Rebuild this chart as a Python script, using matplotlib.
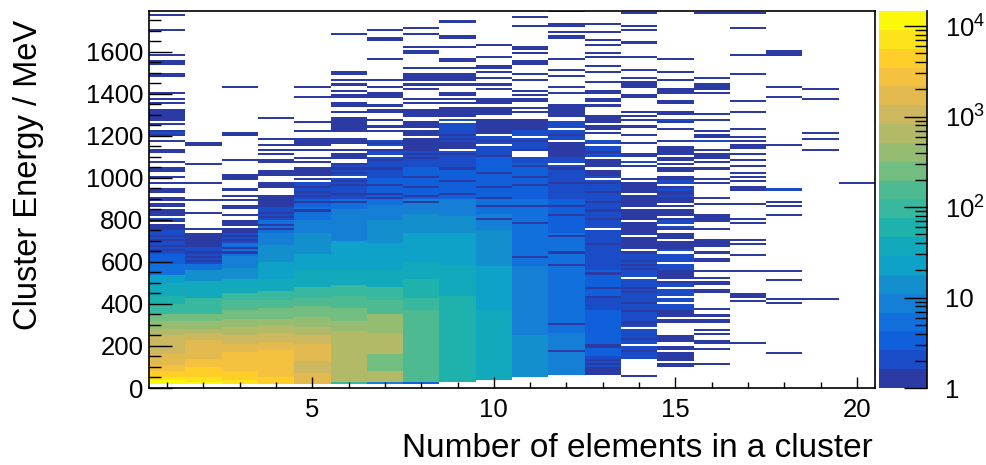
import numpy as np
import matplotlib
matplotlib.use('Agg')
import matplotlib.pyplot as plt
from matplotlib.colors import ListedColormap, LogNorm
from matplotlib.ticker import FixedLocator, FixedFormatter, MultipleLocator, NullFormatter

plt.rcParams['font.family'] = ['Liberation Sans', 'DejaVu Sans']
plt.rcParams['mathtext.default'] = 'regular'

W, H = 987, 465
BIN = 10  # MeV per row
ZMAX = 14650

# Each column: band edges (MeV) + counts in the dense part, single hits above it,
# rows that drop to 1 hit and rows that are empty. All read off the picture.
C1_EDGES = [20, 40, 50, 80, 110, 160, 250, 280, 320, 350, 400, 440, 500, 540, 590, 640, 750]
C1_COUNTS = [10000, 7000, 4300, 2700, 1700, 1000, 640, 400, 250, 120, 60, 30, 18, 6, 3, 2]
C1_LINES = [1770, 1700, 1580, 1550, 1540, 1490, 1480, 1400, 1370, 1350, 1320, 1310, 1300, 1290, 1280, 1270,
            1250, 1220, 1210, 1210, 1200, 1170, 1130, 1120, 1070, 1040, 1030, 1000, 970, 940, 930, 900,
            890, 870, 860, 840, 830, 820, 800, 800, 790, 770, 760, 750]
C1_GAPS = [810]
C1_DIPS = [650, 670, 700, 720]

C2_EDGES = [20, 30, 50, 100, 140, 230, 260, 280, 320, 350, 400, 430, 510, 560, 590, 670, 740]
C2_COUNTS = [10000, 7000, 4300, 2700, 1700, 1000, 650, 400, 250, 120, 75, 35, 14, 5, 2, 1]
C2_LINES = [1150, 1160, 1060, 970, 890, 830, 750]
C2_GAPS = [740]
C2_DIPS = [600, 620, 640]

C3_EDGES = [20, 40, 80, 170, 210, 250, 290, 330, 370, 420, 450, 520, 570, 630, 690, 740, 800]
C3_COUNTS = [7000, 4300, 2700, 1700, 1000, 650, 400, 250, 150, 95, 35, 14, 8, 5, 2, 1]
C3_LINES = [1430, 1200, 1210, 1080, 1010, 1000, 990, 940, 910, 890, 860, 850, 820]
C3_GAPS = [760]
C3_DIPS = [640, 660, 700, 720]

C4_EDGES = [20, 50, 180, 220, 260, 300, 330, 380, 420, 460, 520, 600, 680, 740, 800, 860, 900]
C4_COUNTS = [4300, 2700, 1700, 1000, 650, 400, 250, 150, 75, 35, 22, 14, 8, 5, 2, 1]
C4_LINES = [1280, 1180, 1150, 1130, 1110, 1080, 1070, 1030, 1020, 1010, 970, 960, 950, 910, 900]
C4_GAPS = []
C4_DIPS = [750, 770, 810, 830, 870, 890]

C5_EDGES = [20, 70, 130, 210, 250, 290, 340, 390, 430, 480, 560, 640, 740, 800, 860, 900, 1000]
C5_COUNTS = [1700, 1000, 1700, 1000, 650, 400, 250, 150, 75, 35, 22, 14, 8, 5, 3, 2]
C5_LINES = [1430, 1380, 1260, 1220, 1180, 1170, 1160, 1150, 1130, 1090, 1070, 1040, 1030, 1020, 1010]
C5_GAPS = [980]
C5_DIPS = [910, 930, 950, 990, 840, 880]

C6_EDGES = [20, 30, 270, 320, 380, 440, 490, 560, 700, 780, 850, 900, 1070]
C6_COUNTS = [100, 650, 400, 250, 150, 75, 35, 20, 10, 7, 5, 2]
C6_LINES = [1680, 1500, 1490, 1460, 1440, 1410, 1390, 1380, 1350, 1340, 1310, 1280, 1270, 1260, 1250, 1240,
            1230, 1220, 1180, 1170, 1160, 1130, 1110, 1100, 1090]
C6_GAPS = [1070, 1000]
C6_DIPS = [1060, 1040, 1020, 980, 960, 920, 880]

C7_EDGES = [20, 30, 80, 160, 260, 350, 420, 480, 560, 690, 800, 870, 900, 1000, 1180]
C7_COUNTS = [8, 650, 250, 650, 400, 150, 95, 40, 25, 14, 8, 6, 3, 2]
C7_LINES = [1700, 1660, 1650, 1560, 1460, 1430, 1400, 1390, 1380, 1340, 1320, 1310, 1270, 1240, 1220]
C7_GAPS = [1100, 1140]
C7_DIPS = [1160, 1130, 1080, 1040, 960, 900, 920]

C8_EDGES = [20, 30, 370, 430, 520, 600, 740, 830, 900, 1050, 1130, 1270]
C8_COUNTS = [3, 150, 95, 60, 35, 22, 14, 9, 3, 2, 1]
C8_LINES = [1710, 1680, 1620, 1600, 1590, 1520, 1490, 1480, 1470, 1460, 1440, 1420, 1370, 1350, 1320, 1310, 1300, 1290]
C8_GAPS = [1230, 1190]
C8_DIPS = [1110, 1090, 1000, 950, 910, 880]

C9_EDGES = [30, 440, 580, 740, 820, 900, 1050, 1130, 1170, 1280]
C9_COUNTS = [60, 35, 18, 14, 9, 4, 2, 1, 2]
C9_LINES = [1740, 1660, 1670, 1620, 1550, 1560, 1520, 1490, 1480, 1470, 1460, 1440, 1400, 1390, 1370, 1350,
            1330, 1320, 1310, 1300, 1290]
C9_GAPS = [1260, 1130]
C9_DIPS = [1040, 1110, 1180, 1200, 980, 920]

C10_EDGES = [40, 370, 580, 750, 830, 900, 990, 1110, 1210, 1280]
C10_COUNTS = [35, 22, 12, 9, 6, 4, 3, 2, 1]
C10_LINES = [1630, 1570, 1530, 1520, 1500, 1470, 1440, 1420, 1370, 1360, 1350, 1330, 1320, 1310, 1300]
C10_GAPS = [1200, 1150]
C10_DIPS = [900, 950, 1020, 1100, 1170, 860, 800]

C11_EDGES = [50, 250, 580, 740, 900, 1070, 1230, 1280]
C11_COUNTS = [14, 9, 6, 4.5, 3, 2, 1]
C11_LINES = [1760, 1720, 1620, 1610, 1590, 1550, 1540, 1490, 1460, 1410, 1390, 1370, 1360, 1330, 1310]
C11_GAPS = [1190, 1110, 1120, 1100]
C11_DIPS = [960, 1000, 1050, 1130, 1170, 860, 780, 620]

C12_EDGES = [60, 260, 560, 740, 900, 1100, 1180, 1270]
C12_COUNTS = [8, 5.5, 4.5, 3.5, 2, 1, 2]
C12_LINES = [1790, 1790, 1730, 1720, 1690, 1670, 1660, 1560, 1510, 1480, 1430, 1400, 1340, 1330, 1320, 1310, 1300, 1290]
C12_GAPS = [1230, 1170, 1060]
C12_DIPS = [970, 1040, 1120, 1140, 1200, 580, 640, 300, 170, 720, 820, 860]

C13_EDGES = [60, 150, 200, 370, 440, 560, 690, 800, 900, 1010, 1100, 1180]
C13_COUNTS = [2, 3.5, 3.5, 2.2, 3.5, 2.2, 2.2, 2, 2, 1, 2]
C13_LINES = [1730, 1690, 1650, 1630, 1590, 1570, 1530, 1500, 1450, 1410, 1400, 1370, 1360, 1340,
             1290, 1280, 1270, 1260, 1240, 1230, 1210]
C13_GAPS = [1150, 990, 1090, 1040, 750]
C13_DIPS = [60, 70, 80, 90, 110, 130, 190, 200, 430, 470, 540, 680, 800, 840, 880, 930, 970, 1060, 1120]

C14_EDGES = [140, 260, 340, 520, 640, 890, 1010]
C14_COUNTS = [2, 2, 1.7, 1.7, 1, 1]
C14_LINES = [1780, 1720, 1700, 1640, 1570, 1510, 1470, 1450, 1440, 1430, 1390, 1380, 1310, 1290, 1270, 1240,
             1200, 1160, 1110, 1100, 1070, 1070, 1050, 50]
C14_GAPS = [200, 280, 520, 650, 720, 790, 850, 980, 1000, 920]
C14_DIPS = [170, 230, 300, 310, 360, 400, 450, 470, 560, 580, 600]

C15_EDGES = [310, 350, 370, 500, 560, 660, 760, 800, 890, 1010]
C15_COUNTS = [1, 1, 1.7, 1, 1.7, 1, 1.7, 1, 1]
C15_LINES = [1560, 1500, 1460, 1420, 1410, 1400, 1350, 1360, 1310, 1300, 1270, 1270, 1260, 1230, 1170, 1140,
             1130, 1120, 1110, 1090, 1080, 1060, 1040, 1030, 980, 970, 940, 930, 910,
             240, 230, 220, 190, 180, 160, 150, 140, 130, 100, 110]
C15_GAPS = [330, 400, 430, 470, 510, 590, 640, 700, 740, 770, 810, 850, 870, 930, 960]
C15_DIPS = []

C16_EDGES = [790, 830]
C16_COUNTS = [1]
C16_LINES = [1780, 1470, 1440, 1430, 1420, 1400, 1300, 1270, 1220, 1190, 1200, 1170, 1170, 1130, 1110, 1100,
             1090, 1070, 1040, 990, 970, 900, 870, 750, 700, 690, 680, 670, 640, 610, 600, 550, 520, 500,
             490, 460, 450, 370, 340, 320, 310, 270, 250, 220, 210, 180, 110]
C16_GAPS = []
C16_DIPS = []

C17_LINES = [1780, 1710, 1580, 1490, 1360, 1310, 1230, 1190, 1170, 1150, 1140, 1110, 1080, 1050, 1020, 1000,
             980, 950, 940, 870, 800, 780, 700, 680, 630, 550, 440, 430, 410, 210]
C18_LINES = [1600, 1590, 1580, 1430, 1380, 1150, 940, 940, 880, 860, 820, 550, 510, 420, 400, 160]
C19_LINES = [1420, 1370, 1210, 1180, 1130, 420]
C20_LINES = [970]

EDGES = [C1_EDGES, C2_EDGES, C3_EDGES, C4_EDGES, C5_EDGES, C6_EDGES, C7_EDGES, C8_EDGES,
         C9_EDGES, C10_EDGES, C11_EDGES, C12_EDGES, C13_EDGES, C14_EDGES, C15_EDGES, C16_EDGES]
COUNTS = [C1_COUNTS, C2_COUNTS, C3_COUNTS, C4_COUNTS, C5_COUNTS, C6_COUNTS, C7_COUNTS, C8_COUNTS,
          C9_COUNTS, C10_COUNTS, C11_COUNTS, C12_COUNTS, C13_COUNTS, C14_COUNTS, C15_COUNTS, C16_COUNTS]
GAPS = [C1_GAPS, C2_GAPS, C3_GAPS, C4_GAPS, C5_GAPS, C6_GAPS, C7_GAPS, C8_GAPS,
        C9_GAPS, C10_GAPS, C11_GAPS, C12_GAPS, C13_GAPS, C14_GAPS, C15_GAPS, C16_GAPS]
DIPS = [C1_DIPS, C2_DIPS, C3_DIPS, C4_DIPS, C5_DIPS, C6_DIPS, C7_DIPS, C8_DIPS,
        C9_DIPS, C10_DIPS, C11_DIPS, C12_DIPS, C13_DIPS, C14_DIPS, C15_DIPS, C16_DIPS]
LINES = [C1_LINES, C2_LINES, C3_LINES, C4_LINES, C5_LINES, C6_LINES, C7_LINES, C8_LINES,
         C9_LINES, C10_LINES, C11_LINES, C12_LINES, C13_LINES, C14_LINES, C15_LINES, C16_LINES,
         C17_LINES, C18_LINES, C19_LINES, C20_LINES]

# colour bar bands, bottom to top
BAND_COLORS = ['#2c3aa4', '#1a4cc8', '#1060dc', '#1270dc', '#147fd4', '#128fcc', '#0ea2c8',
               '#12a9bc', '#1fb2ac', '#38b89e', '#4eba92', '#72be80', '#96bc72', '#b2ba68',
               '#cdb860', '#e2ba50', '#f4c23e', '#ffce28', '#fde31a', '#fbf80a']


def build_grid():
    n_rows = 1800 // BIN
    grid = np.zeros((n_rows, len(LINES)))
    for i, lines in enumerate(LINES):
        if i < len(EDGES):
            for lo, hi, c in zip(EDGES[i][:-1], EDGES[i][1:], COUNTS[i]):
                grid[lo // BIN:hi // BIN, i] = c
            for e in DIPS[i]:
                if grid[e // BIN, i] > 0:
                    grid[e // BIN, i] = 1
            for e in GAPS[i]:
                grid[e // BIN, i] = 0
        for e in lines:
            # repeated entries stack up, hits on an empty row stay at 1
            grid[e // BIN, i] += 1
    return np.ma.masked_equal(grid, 0)


grid = build_grid()
x_edges = np.arange(0.5, 21, 1)
y_edges = np.arange(0, 1801, BIN)

cmap = ListedColormap(BAND_COLORS)
norm = LogNorm(1, ZMAX)

fig = plt.figure(figsize=(W / 100, H / 100), dpi=100)
ax = fig.add_axes([149 / W, (H - 388) / H, (875 - 149) / W, (388 - 11) / H])
mesh = ax.pcolormesh(x_edges, y_edges, grid, cmap=cmap, norm=norm, linewidth=0, rasterized=True)
ax.set_xlim(0.5, 20.5)
ax.set_ylim(0, 1795)

ax.xaxis.set_major_locator(MultipleLocator(5))
ax.xaxis.set_minor_locator(MultipleLocator(1))
ax.yaxis.set_major_locator(MultipleLocator(200))
ax.yaxis.set_minor_locator(MultipleLocator(50))
ax.tick_params(axis='x', which='major', direction='in', length=8, width=1, labelsize=18.5, pad=7)
ax.tick_params(axis='x', which='minor', direction='in', length=4, width=1)
ax.tick_params(axis='y', which='major', direction='in', length=16.5, width=1, labelsize=18.5, pad=4)
ax.tick_params(axis='y', which='minor', direction='in', length=8.5, width=1)
for s in ax.spines.values():
    s.set_linewidth(1.2)

fig.text(873 / W, (H - 448) / H, 'Number of elements in a cluster', fontsize=24, ha='right', va='center')
fig.text(29 / W, (H - 175) / H, 'Cluster Energy / MeV', fontsize=23.5, rotation=90, ha='center', va='center')

cax = fig.add_axes([879 / W, (H - 388) / H, (927 - 879) / W, (388 - 11) / H])
cbar = fig.colorbar(mesh, cax=cax)
cbar.outline.set_visible(False)
cax.plot([1, 1], [0, 1], transform=cax.transAxes, color='k', lw=1.2, clip_on=False)
cax.yaxis.set_major_locator(FixedLocator([1, 10, 100, 1000, 10000]))
cax.yaxis.set_major_formatter(FixedFormatter(['1', '10', '$10^{2}$', '$10^{3}$', '$10^{4}$']))
cax.yaxis.set_minor_formatter(NullFormatter())
cax.tick_params(which='major', direction='in', length=16.5, width=1, labelsize=18.5, pad=13)
cax.tick_params(which='minor', direction='in', length=8.5, width=1)

fig.savefig('out.png', dpi=100)
